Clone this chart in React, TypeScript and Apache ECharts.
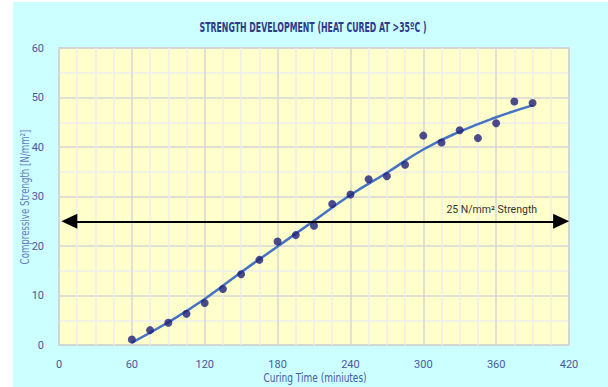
import React, { useEffect, useRef } from "react";
import * as echarts from "echarts";

const chartTitle = "STRENGTH DEVELOPMENT (HEAT CURED AT >35ºC )";
const xAxisName = "Curing Time (miniutes)";
const yAxisName = "Compressive Strength [N/mm²]";
const timeMinutes = [60, 75, 90, 105, 120, 135, 150, 165, 180, 195, 210, 225, 240, 255, 270, 285, 300, 315, 330, 345, 360, 375, 390];
const strength = [1.1, 3.0, 4.5, 6.3, 8.5, 11.3, 14.3, 17.2, 20.9, 22.2, 24.1, 28.5, 30.4, 33.5, 34.1, 36.4, 42.3, 40.9, 43.4, 41.8, 44.8, 49.2, 48.9];
const trendTime = [60, 90, 120, 150, 180, 210, 240, 270, 300, 330, 360, 390];
const trendStrength = [0.5, 4.6, 9.3, 14.7, 19.9, 25.1, 30.3, 34.8, 39.5, 43.1, 46.0, 48.4];
const targetStrength = 25;
const targetStart = 8.5;
const targetEnd = 413.5;
const targetLabel = "25 N/mm² Strength";

const FONT = "'DejaVu Sans', sans-serif";
const TICK_FONT = "Roboto, sans-serif";

export default function App() {
  const ref = useRef<HTMLDivElement>(null);
  useEffect(() => {
    document.body.style.margin = "0";
    const chart = echarts.init(ref.current!, null, { renderer: "svg" });
    chart.setOption({
      animation: false,
      backgroundColor: "#ccffff",
      textStyle: { fontFamily: FONT },
      graphic: [
        {
          type: "text",
          x: 300,
          y: 25,
          scaleX: 0.56,
          style: {
            text: chartTitle,
            fontFamily: FONT,
            fontSize: 14,
            fontWeight: "bold",
            fill: "#2e3a8a",
            textAlign: "center",
            textVerticalAlign: "middle",
          },
        },
        {
          type: "text",
          x: 302,
          y: 376,
          scaleX: 0.72,
          style: {
            text: xAxisName,
            fontFamily: FONT,
            fontSize: 12.5,
            fill: "#4a58a8",
            textAlign: "center",
            textVerticalAlign: "middle",
          },
        },
        {
          type: "text",
          x: 11,
          y: 195,
          rotation: Math.PI / 2,
          scaleX: 0.72,
          style: {
            text: yAxisName,
            fontFamily: FONT,
            fontSize: 12,
            fill: "#6a78c0",
            textAlign: "center",
            textVerticalAlign: "middle",
          },
        },
      ],
      grid: {
        left: 46,
        right: 39,
        top: 46,
        bottom: 42,
        show: true,
        backgroundColor: "#ffffcc",
        borderColor: "#c4c4c4",
        borderWidth: 1.5,
      },
      xAxis: {
        type: "value",
        min: 0,
        max: 420,
        interval: 60,
        axisLine: { show: false },
        axisTick: { show: false },
        axisLabel: { margin: 14, fontFamily: TICK_FONT, fontSize: 11, color: "#4a58a0" },
        splitLine: { lineStyle: { color: "#d6d6d6", width: 1.5 } },
        minorTick: { show: false, splitNumber: 4 },
        minorSplitLine: { show: true, lineStyle: { color: "#ececec", width: 1.5 } },
      },
      yAxis: {
        type: "value",
        min: 0,
        max: 60,
        interval: 10,
        axisLine: { show: false },
        axisTick: { show: false },
        axisLabel: { margin: 15, fontFamily: TICK_FONT, fontSize: 11, color: "#4a58a0" },
        splitLine: { lineStyle: { color: "#d6d6d6", width: 1.5 } },
        minorTick: { show: false, splitNumber: 2 },
        minorSplitLine: { show: true, lineStyle: { color: "#ececec", width: 1.5 } },
      },
      series: [
        {
          type: "line",
          data: trendTime.map((t, i) => [t, trendStrength[i]]),
          smooth: true,
          showSymbol: false,
          lineStyle: { color: "#4472c4", width: 2.5 },
          z: 3,
          markLine: {
            silent: true,
            symbol: ["triangle", "triangle"],
            symbolSize: [15, 16],
            lineStyle: { color: "#000", width: 2, type: "solid" },
            label: {
              show: true,
              position: "insideEndTop",
              formatter: targetLabel,
              fontFamily: TICK_FONT,
              fontSize: 10.5,
              color: "#333",
              distance: [24, 6],
            },
            data: [[{ coord: [targetStart, targetStrength] }, { coord: [targetEnd, targetStrength] }]],
          },
        },
        {
          type: "scatter",
          data: timeMinutes.map((t, i) => [t, strength[i]]),
          symbolSize: 8,
          itemStyle: { color: "#1f1f78" },
          z: 4,
        },
      ],
    });
    return () => chart.dispose();
  }, []);
  return (
    <div style={{ position: "relative", width: 608, height: 387, background: "#fff" }}>
      <div ref={ref} style={{ position: "absolute", left: 13, top: 2, width: 595, height: 385 }} />
    </div>
  );
}
